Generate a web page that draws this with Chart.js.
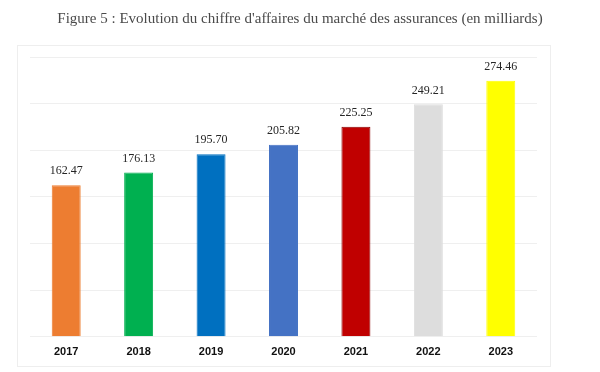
<!DOCTYPE html>
<html>
<head>
<meta charset="utf-8">
<script src="https://cdn.jsdelivr.net/npm/chart.js@4"></script>
<style>
  html, body { margin: 0; padding: 0; background: #fff; }
  #wrap { width: 600px; height: 372px; }
</style>
</head>
<body>
<div id="wrap"><canvas id="caChart" width="600" height="372"></canvas></div>
<script>
// chiffre d'affaires du marché des assurances

const years = ['2017', '2018', '2019', '2020', '2021', '2022', '2023'];
const values = [162.47, 176.13, 195.70, 205.82, 225.25, 249.21, 274.46];
const barColors = ['#ED7D31', '#00B050', '#0070C0', '#4472C4', '#C00000', '#DDDDDD', '#FFFF00'];

// frame around the plot, like the spreadsheet chart area
const framePlugin = {
  id: 'frame',
  beforeDraw(chart) {
    const c = chart.ctx;
    c.save();
    c.strokeStyle = '#EEEEEE';
    c.lineWidth = 1;
    c.strokeRect(17.5, 45.5, 533, 321);
    c.restore();
  }
};

// value labels above each bar
const valueLabels = {
  id: 'valueLabels',
  afterDatasetsDraw(chart) {
    const c = chart.ctx;
    const meta = chart.getDatasetMeta(0);
    c.save();
    c.font = '12px "Liberation Serif", serif';
    c.fillStyle = '#262626';
    c.textAlign = 'center';
    c.textBaseline = 'bottom';
    meta.data.forEach((bar, i) => {
      c.fillText(values[i].toFixed(2), bar.x, bar.y - 8);
    });
    c.restore();
  }
};

const ctx = document.getElementById('caChart').getContext('2d');

new Chart(ctx, {
  type: 'bar',
  data: {
    labels: years,
    datasets: [{
      data: values,
      backgroundColor: barColors,
      borderColor: barColors.map(c => c === '#C00000' ? '#8B0000' : c),
      borderWidth: 1,
      barPercentage: 0.4,
      categoryPercentage: 1
    }]
  },
  options: {
    responsive: false,
    animation: false,
    layout: {
      padding: { bottom: 12 }
    },
    plugins: {
      legend: { display: false },
      tooltip: { enabled: false },
      title: {
        display: true,
        text: "Figure 5 : Evolution du chiffre d'affaires du marché des assurances (en milliards)",
        color: '#4a4a4a',
        font: { family: '"Liberation Serif", serif', size: 15, weight: 'normal' },
        padding: { top: 10, bottom: 29 }
      }
    },
    scales: {
      x: {
        grid: { display: false },
        border: { display: false },
        ticks: {
          color: '#111',
          padding: 1,
          font: { family: '"Liberation Sans", Arial, sans-serif', size: 11, weight: 'bold' }
        }
      },
      y: {
        min: 0,
        max: 300,
        ticks: { display: false, stepSize: 50 },
        border: { display: false },
        grid: { color: '#EFEFEF', drawTicks: false },
        afterFit(scale) { scale.width = 30; }
      },
      yRight: {
        position: 'right',
        min: 0,
        max: 300,
        ticks: { display: false },
        border: { display: false },
        grid: { display: false },
        afterFit(scale) { scale.width = 63; }
      }
    }
  },
  plugins: [framePlugin, valueLabels]
});
</script>
</body>
</html>
